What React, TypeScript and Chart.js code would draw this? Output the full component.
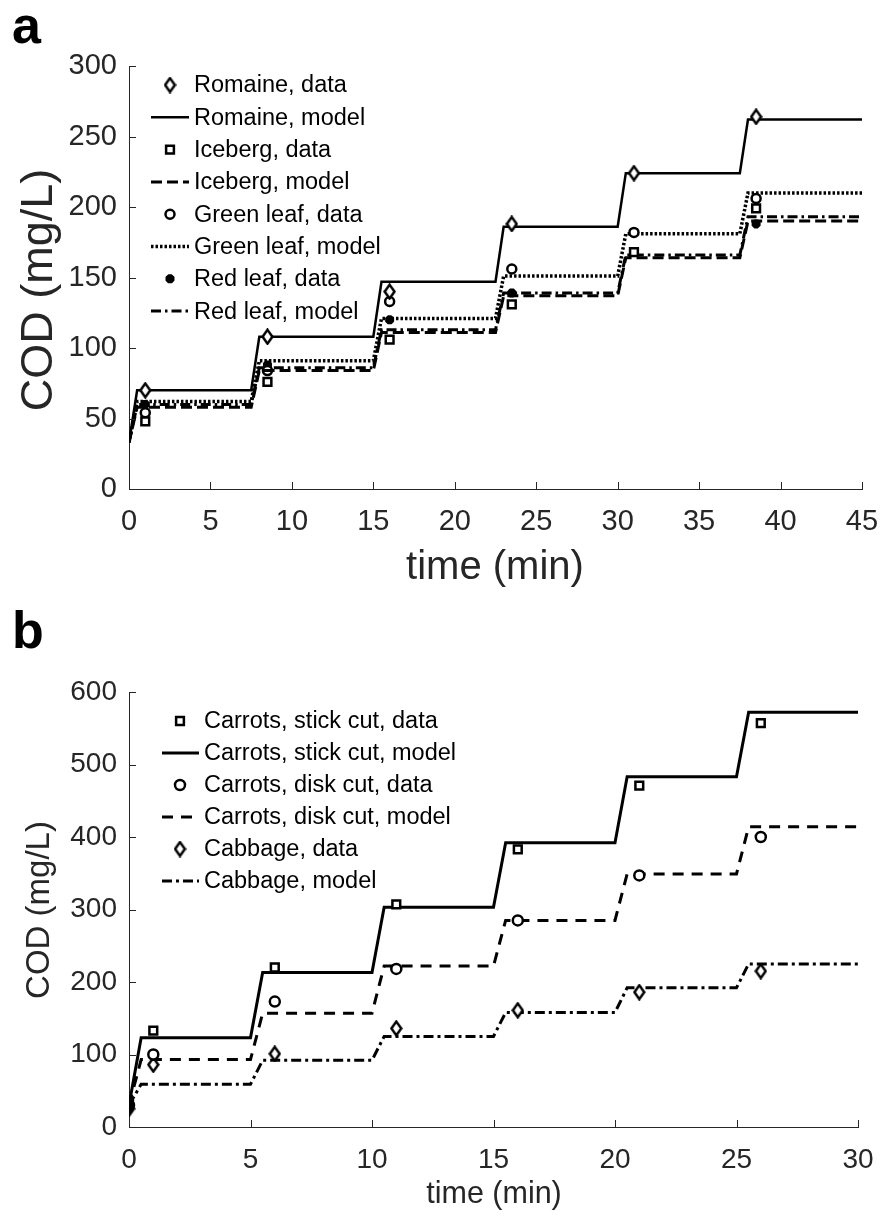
import React, { useEffect, useRef } from 'react';
import { Chart, registerables } from 'chart.js';

Chart.register(...registerables);

const FONT_FAMILY = '"Liberation Sans", Arial, Helvetica, sans-serif';
const AXIS_COLOR = '#262626';

// ---------------- Panel a data ----------------
const xTicksA = [0, 5, 10, 15, 20, 25, 30, 35, 40, 45];
const yTicksA = [0, 50, 100, 150, 200, 250, 300];
const timeDataA = [1, 8.5, 16, 23.5, 31, 38.5];
const romaineData = [70, 108, 140, 188, 224, 264];
const icebergData = [48, 76, 106, 131, 168, 199];
const greenLeafData = [54, 84, 133, 156, 182, 206];
const redLeafData = [60, 88, 120, 139, 168, 188];
const modelTimeA = [0, 0.5, 7.5, 8, 15, 15.5, 22.5, 23, 30, 30.5, 37.5, 38, 45];
const romaineModel = [33, 70, 70, 108, 108, 147, 147, 186, 186, 224, 224, 262, 262];
const icebergModel = [33, 58, 58, 84, 84, 111, 111, 137, 137, 164, 164, 190, 190];
const greenLeafModel = [33, 62, 62, 91, 91, 121, 121, 151, 151, 181, 181, 210, 210];
const redLeafModel = [33, 60, 60, 86, 86, 113, 113, 139, 139, 166, 166, 193, 193];

// ---------------- Panel b data ----------------
const xTicksB = [0, 5, 10, 15, 20, 25, 30];
const yTicksB = [0, 100, 200, 300, 400, 500, 600];
const timeDataB = [0, 1, 6, 11, 16, 21, 26];
const stickData = [32, 133, 220, 307, 383, 471, 557];
const diskData = [30, 100, 173, 218, 285, 347, 400];
const cabbageData = [25, 86, 101, 136, 161, 186, 215];
const modelTimeB = [0, 0.5, 5, 5.5, 10, 10.5, 15, 15.5, 20, 20.5, 25, 25.5, 30];
const stickModel = [30, 123, 123, 213, 213, 303, 303, 392, 392, 483, 483, 572, 572];
const diskModel = [30, 93, 93, 157, 157, 222, 222, 285, 285, 349, 349, 414, 414];
const cabbageModel = [30, 59, 59, 92, 92, 125, 125, 158, 158, 192, 192, 225, 225];

const pts = (xs: number[], ys: number[]) => xs.map((x, i) => ({ x, y: ys[i] }));

function makeDiamond(fill: string) {
  const w = 13, h = 17, lw = 2.5;
  const c = document.createElement('canvas');
  c.width = w; c.height = h;
  const g = c.getContext('2d')!;
  g.lineWidth = lw; g.strokeStyle = '#000'; g.fillStyle = fill; g.lineJoin = 'miter';
  g.beginPath();
  g.moveTo(w / 2, 1.6);
  g.lineTo(w - 1.6, h / 2);
  g.lineTo(w / 2, h - 1.6);
  g.lineTo(1.6, h / 2);
  g.closePath();
  g.fill(); g.stroke();
  return c;
}

function markerDs(label: string, data: any[], style: any, extra: any = {}) {
  return {
    label, data, showLine: false,
    pointStyle: style, pointRadius: 5.5, pointBorderWidth: 2.5,
    pointBorderColor: '#000', pointBackgroundColor: '#fff',
    borderColor: '#000', backgroundColor: '#fff',
    ...extra,
  };
}

function lineDs(label: string, data: any[], dash: number[], width: number) {
  return {
    label, data, showLine: true, pointRadius: 0, borderColor: '#000',
    borderWidth: width, borderDash: dash, fill: false, tension: 0,
    borderCapStyle: 'butt', borderJoinStyle: 'miter',
  };
}

function drawMarker(ctx: CanvasRenderingContext2D, ds: any, x: number, y: number) {
  const style = ds.pointStyle;
  const r = ds.pointRadius;
  ctx.save();
  ctx.strokeStyle = '#000';
  ctx.fillStyle = typeof ds.pointBackgroundColor === 'string' ? ds.pointBackgroundColor : '#fff';
  ctx.lineWidth = ds.pointBorderWidth;
  if (typeof style === 'function' || (style && typeof style === 'object')) {
    const img = typeof style === 'function' ? style({ dataIndex: 1 }) : style;
    ctx.drawImage(img, x - img.width / 2, y - img.height / 2);
  } else if (style === 'circle') {
    ctx.beginPath(); ctx.arc(x, y, r, 0, Math.PI * 2); ctx.fill(); ctx.stroke();
  } else if (style === 'rect') {
    const s = Math.SQRT1_2 * r;
    ctx.beginPath(); ctx.rect(x - s, y - s, 2 * s, 2 * s); ctx.fill(); ctx.stroke();
  } else if (style === 'star') {
    ctx.beginPath();
    for (let k = 0; k < 4; k++) {
      const a = k * Math.PI / 4;
      ctx.moveTo(x - Math.cos(a) * r, y - Math.sin(a) * r);
      ctx.lineTo(x + Math.cos(a) * r, y + Math.sin(a) * r);
    }
    ctx.stroke();
  }
  ctx.restore();
}

const inwardTicks = {
  id: 'inwardTicks',
  afterDatasetsDraw(chart: any) {
    const { ctx, chartArea, scales } = chart;
    ctx.save();
    ctx.strokeStyle = AXIS_COLOR;
    ctx.lineWidth = 1;
    ctx.beginPath();
    scales.x.ticks.forEach((t: any) => {
      const px = Math.round(scales.x.getPixelForValue(t.value)) + 0.5;
      ctx.moveTo(px, chartArea.bottom);
      ctx.lineTo(px, chartArea.bottom - 7);
    });
    scales.y.ticks.forEach((t: any) => {
      const py = Math.round(scales.y.getPixelForValue(t.value)) + 0.5;
      ctx.moveTo(chartArea.left, py);
      ctx.lineTo(chartArea.left + 7, py);
    });
    ctx.stroke();
    ctx.restore();
  },
};

function buildConfig(spec: any) {
  const legendPlugin = {
    id: 'matlabLegend',
    afterDraw(chart: any) {
      const ctx = chart.ctx;
      const L = spec.legend;
      ctx.save();
      ctx.font = `${L.font}px ${FONT_FAMILY}`;
      ctx.textBaseline = 'middle';
      ctx.textAlign = 'left';
      chart.data.datasets.forEach((ds: any, i: number) => {
        const y = L.y0 + i * L.step;
        if (ds.showLine) {
          ctx.save();
          ctx.strokeStyle = '#000';
          ctx.lineWidth = ds.borderWidth;
          ctx.setLineDash(ds.borderDash || []);
          ctx.beginPath();
          ctx.moveTo(L.lineX1, y);
          ctx.lineTo(L.lineX2, y);
          ctx.stroke();
          ctx.restore();
        } else {
          drawMarker(ctx, ds, L.markerX, y);
        }
        ctx.fillStyle = '#000';
        ctx.fillText(ds.label, L.textX, y + 1);
      });
      ctx.restore();
    },
  };
  const textPlugin = {
    id: 'panelText',
    afterDraw(chart: any) {
      const ctx = chart.ctx;
      ctx.save();
      ctx.fillStyle = '#000';
      ctx.font = `bold ${spec.panel.size}px ${FONT_FAMILY}`;
      ctx.textAlign = 'left';
      ctx.textBaseline = 'alphabetic';
      ctx.fillText(spec.panel.text, spec.panel.x, spec.panel.y);
      ctx.fillStyle = AXIS_COLOR;
      ctx.font = `${spec.xTitle.size}px ${FONT_FAMILY}`;
      ctx.textAlign = 'center';
      ctx.textBaseline = 'middle';
      ctx.fillText(spec.xTitle.text, spec.xTitle.x, spec.xTitle.y);
      ctx.font = `${spec.yTitle.size}px ${FONT_FAMILY}`;
      ctx.translate(spec.yTitle.x, spec.yTitle.y);
      ctx.rotate(-Math.PI / 2);
      ctx.fillText(spec.yTitle.text, 0, 0);
      ctx.restore();
    },
  };
  return {
    type: 'scatter',
    data: { datasets: spec.datasets },
    options: {
      animation: false,
      responsive: false,
      maintainAspectRatio: false,
      events: [],
      layout: { padding: { top: spec.padTop, right: spec.padRight, left: 0, bottom: 0 } },
      plugins: { legend: { display: false }, tooltip: { enabled: false } },
      scales: {
        x: {
          type: 'linear', position: 'bottom',
          min: spec.xTicks[0], max: spec.xTicks[spec.xTicks.length - 1],
          afterBuildTicks: (s: any) => { s.ticks = spec.xTicks.map((v: number) => ({ value: v })); },
          afterFit: (s: any) => { s.height = spec.xAxisHeight; s.paddingLeft = 0; s.paddingRight = 0; },
          grid: { display: false, drawTicks: false },
          border: { display: true, color: AXIS_COLOR, width: 1 },
          ticks: {
            autoSkip: false, maxRotation: 0, minRotation: 0,
            font: { family: FONT_FAMILY, size: spec.tickFont },
            color: AXIS_COLOR, padding: spec.xTickPad,
          },
        },
        y: {
          type: 'linear', position: 'left',
          min: spec.yTicks[0], max: spec.yTicks[spec.yTicks.length - 1],
          afterBuildTicks: (s: any) => { s.ticks = spec.yTicks.map((v: number) => ({ value: v })); },
          afterFit: (s: any) => { s.width = spec.yAxisWidth; s.paddingTop = 0; s.paddingBottom = 0; },
          grid: { display: false, drawTicks: false },
          border: { display: true, color: AXIS_COLOR, width: 1 },
          ticks: {
            autoSkip: false,
            font: { family: FONT_FAMILY, size: spec.tickFont },
            color: AXIS_COLOR, padding: spec.yTickPad,
          },
        },
      },
    },
    plugins: [inwardTicks, legendPlugin, textPlugin],
  };
}

function Panel({ top, height, spec }: any) {
  const ref = useRef<HTMLCanvasElement>(null);
  useEffect(() => {
    const chart = new Chart(ref.current as HTMLCanvasElement, buildConfig(spec()) as any);
    return () => chart.destroy();
  }, []);
  return (
    <canvas
      ref={ref}
      width={880}
      height={height}
      style={{ position: 'absolute', left: 0, top, width: 880, height }}
    />
  );
}

function specA() {
  const diamond = makeDiamond('#fff');
  return {
    padTop: 66, padRight: 18, yAxisWidth: 129, xAxisHeight: 111,
    xTicks: xTicksA, yTicks: yTicksA, tickFont: 29, xTickPad: 16, yTickPad: 12,
    legend: { y0: 85, step: 32.3, markerX: 170, lineX1: 151, lineX2: 189, textX: 194, font: 23.5 },
    panel: { text: 'a', x: 12, y: 43, size: 52 },
    xTitle: { text: 'time (min)', x: 495, y: 568, size: 40 },
    yTitle: { text: 'COD (mg/L)', x: 40, y: 290, size: 45 },
    datasets: [
      markerDs('Romaine, data', pts(timeDataA, romaineData), diamond),
      lineDs('Romaine, model', pts(modelTimeA, romaineModel), [], 2.5),
      markerDs('Iceberg, data', pts(timeDataA, icebergData), 'rect'),
      lineDs('Iceberg, model', pts(modelTimeA, icebergModel), [11, 5], 3),
      markerDs('Green leaf, data', pts(timeDataA, greenLeafData), 'circle', { pointRadius: 4.5 }),
      lineDs('Green leaf, model', pts(modelTimeA, greenLeafModel), [2.5, 2], 3.5),
      markerDs('Red leaf, data', pts(timeDataA, redLeafData), 'star', { pointRadius: 4.5, pointBorderWidth: 3.5, pointBackgroundColor: '#000' }),
      lineDs('Red leaf, model', pts(modelTimeA, redLeafModel), [10, 4, 2.5, 4], 3),
    ],
  };
}

function specB() {
  const diamond = makeDiamond('#fff');
  const diamondFilled = makeDiamond('#000');
  const firstFilled = (ctx: any) => (ctx.dataIndex === 0 ? '#000' : '#fff');
  return {
    padTop: 92, padRight: 22, yAxisWidth: 129, xAxisHeight: 90,
    xTicks: xTicksB, yTicks: yTicksB, tickFont: 28, xTickPad: 16, yTickPad: 12,
    legend: { y0: 121, step: 32, markerX: 180, lineX1: 162, lineX2: 199, textX: 204, font: 23.5 },
    panel: { text: 'b', x: 12, y: 48, size: 52 },
    xTitle: { text: 'time (min)', x: 494, y: 595, size: 30.5 },
    yTitle: { text: 'COD (mg/L)', x: 40, y: 310, size: 33 },
    datasets: [
      markerDs('Carrots, stick cut, data', pts(timeDataB, stickData), 'rect', { pointBackgroundColor: firstFilled }),
      lineDs('Carrots, stick cut, model', pts(modelTimeB, stickModel), [], 3),
      markerDs('Carrots, disk cut, data', pts(timeDataB, diskData), 'circle', { pointRadius: 5, pointBackgroundColor: firstFilled }),
      lineDs('Carrots, disk cut, model', pts(modelTimeB, diskModel), [11, 8], 3),
      markerDs('Cabbage, data', pts(timeDataB, cabbageData), (ctx: any) => (ctx.dataIndex === 0 ? diamondFilled : diamond)),
      lineDs('Cabbage, model', pts(modelTimeB, cabbageModel), [10, 4, 3, 4], 3),
    ],
  };
}

export default function App() {
  return (
    <div style={{ position: 'absolute', left: 0, top: 0, width: 880, height: 1217, overflow: 'hidden', background: '#fff' }}>
      <Panel top={0} height={600} spec={specA} />
      <Panel top={600} height={617} spec={specB} />
    </div>
  );
}
